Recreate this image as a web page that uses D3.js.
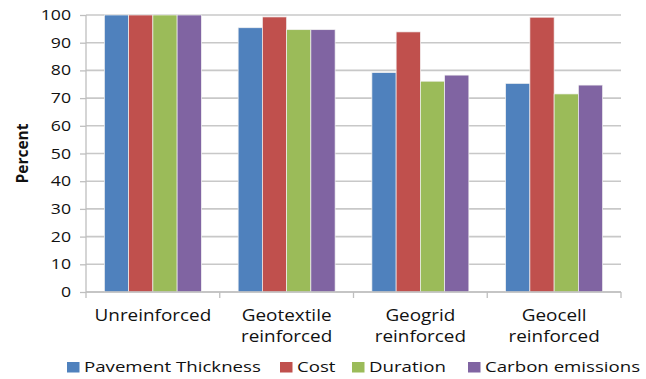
<!DOCTYPE html>
<html>
<head>
<meta charset="utf-8">
<script src="https://cdn.jsdelivr.net/npm/d3@7"></script>
<style>
  html, body { margin: 0; padding: 0; background: #fff; }
  svg { display: block; }
</style>
</head>
<body>
<svg id="chart" width="646" height="379"></svg>
<script>
// Relative performance of reinforcement options (unreinforced = 100%)
const categories = [["Unreinforced"], ["Geotextile", "reinforced"], ["Geogrid", "reinforced"], ["Geocell", "reinforced"]];
const seriesNames = ["Pavement Thickness", "Cost", "Duration", "Carbon emissions"];
const pavementThickness = [100, 95.4, 79.2, 75.3];
const cost = [100, 99.3, 93.9, 99.2];
const duration = [100, 94.7, 76.1, 71.5];
const carbonEmissions = [100, 94.7, 78.3, 74.7];
const yTicks = [0, 10, 20, 30, 40, 50, 60, 70, 80, 90, 100];
const colors = ["#4F81BD", "#C0504D", "#9BBB59", "#8064A2"];

const seriesValues = [pavementThickness, cost, duration, carbonEmissions];

const FONT = "'Open Sans', sans-serif";
const SX = 1.22; // horizontal stretch applied to all labels

// draws a horizontally stretched label anchored at (x, y)
function label(parent, x, y, text, size, anchor) {
  return parent.append("text")
    .attr("transform", `translate(${x},${y}) scale(${SX},1)`)
    .attr("text-anchor", anchor)
    .attr("font-family", FONT).attr("font-size", size).attr("fill", "#111")
    .text(text);
}

const svg = d3.select("#chart");
const margin = { left: 86, right: 25, top: 15, bottom: 87 };
const W = 646, H = 379;
const plotW = W - margin.left - margin.right;
const plotH = H - margin.top - margin.bottom;

const g = svg.append("g").attr("transform", `translate(${margin.left},${margin.top})`);

const x0 = d3.scaleBand().domain(d3.range(categories.length)).range([0, plotW]);
const groupPad = 0.275;
const x1 = d3.scaleBand().domain(d3.range(seriesNames.length))
  .range([x0.bandwidth() * groupPad / 2, x0.bandwidth() * (1 - groupPad / 2)]);
const y = d3.scaleLinear().domain([0, 100]).range([plotH, 0]);

// horizontal gridlines
g.append("g").selectAll("line").data(yTicks).join("line")
  .attr("x1", 0).attr("x2", plotW)
  .attr("y1", d => y(d)).attr("y2", d => y(d))
  .attr("stroke", "#C8C8C8").attr("stroke-width", 1.6);

// y axis
const yAxis = g.append("g").call(d3.axisLeft(y).tickValues(yTicks).tickSize(6).tickFormat(""));
yAxis.select(".domain").attr("stroke", "#BFBFBF").attr("stroke-width", 1.3).attr("d", `M0,0V${plotH}`);
yAxis.selectAll(".tick line").attr("stroke", "#BFBFBF").attr("stroke-width", 1.3);
const yLabels = g.append("g");
yTicks.forEach(t => label(yLabels, -15, y(t) + 5, d3.format("d")(t), 14.5, "end"));

// bars
const groups = g.append("g").selectAll("g").data(categories).join("g")
  .attr("transform", (d, i) => `translate(${x0(i)},0)`);
groups.selectAll("rect")
  .data((d, i) => seriesValues.map((vals, s) => ({ s, v: vals[i] })))
  .join("rect")
  .attr("x", d => x1(d.s))
  .attr("width", x1.bandwidth())
  .attr("y", d => y(d.v))
  .attr("height", d => plotH - y(d.v))
  .attr("fill", d => colors[d.s])
  .attr("stroke", "#F2F2F2").attr("stroke-width", 0.7);

// x axis
const xAxis = g.append("g").attr("transform", `translate(0,${plotH})`);
xAxis.append("line").attr("x1", 0).attr("x2", plotW).attr("y1", 0).attr("y2", 0)
  .attr("stroke", "#BFBFBF").attr("stroke-width", 1.3);
xAxis.selectAll("line.tk").data(d3.range(categories.length + 1)).join("line").attr("class", "tk")
  .attr("x1", d => d * x0.step()).attr("x2", d => d * x0.step())
  .attr("y1", 0).attr("y2", 6)
  .attr("stroke", "#BFBFBF").attr("stroke-width", 1.3);
categories.forEach((lines, i) => {
  lines.forEach((ln, j) => {
    label(xAxis, x0(i) + x0.bandwidth() / 2, 28.5 + j * 21.5, ln, 15.5, "middle");
  });
});

// y axis title
svg.append("text")
  .attr("transform", `translate(28,${margin.top + plotH / 2}) rotate(-90)`)
  .attr("text-anchor", "middle")
  .attr("font-family", FONT).attr("font-weight", "bold")
  .attr("font-size", 16).attr("fill", "#111")
  .attr("textLength", 60).attr("lengthAdjust", "spacingAndGlyphs")
  .text("Percent");

// legend
const legendX = [67, 280, 352, 468];
const legend = svg.append("g").selectAll("g").data(seriesNames).join("g")
  .attr("transform", (d, i) => `translate(${legendX[i]},0)`);
legend.append("rect").attr("x", 0).attr("y", 362).attr("width", 12.5).attr("height", 10.5)
  .attr("fill", (d, i) => colors[i]);
legend.each(function (d) {
  label(d3.select(this), 17, 372, d, 15.3, "start");
});
</script>
</body>
</html>
